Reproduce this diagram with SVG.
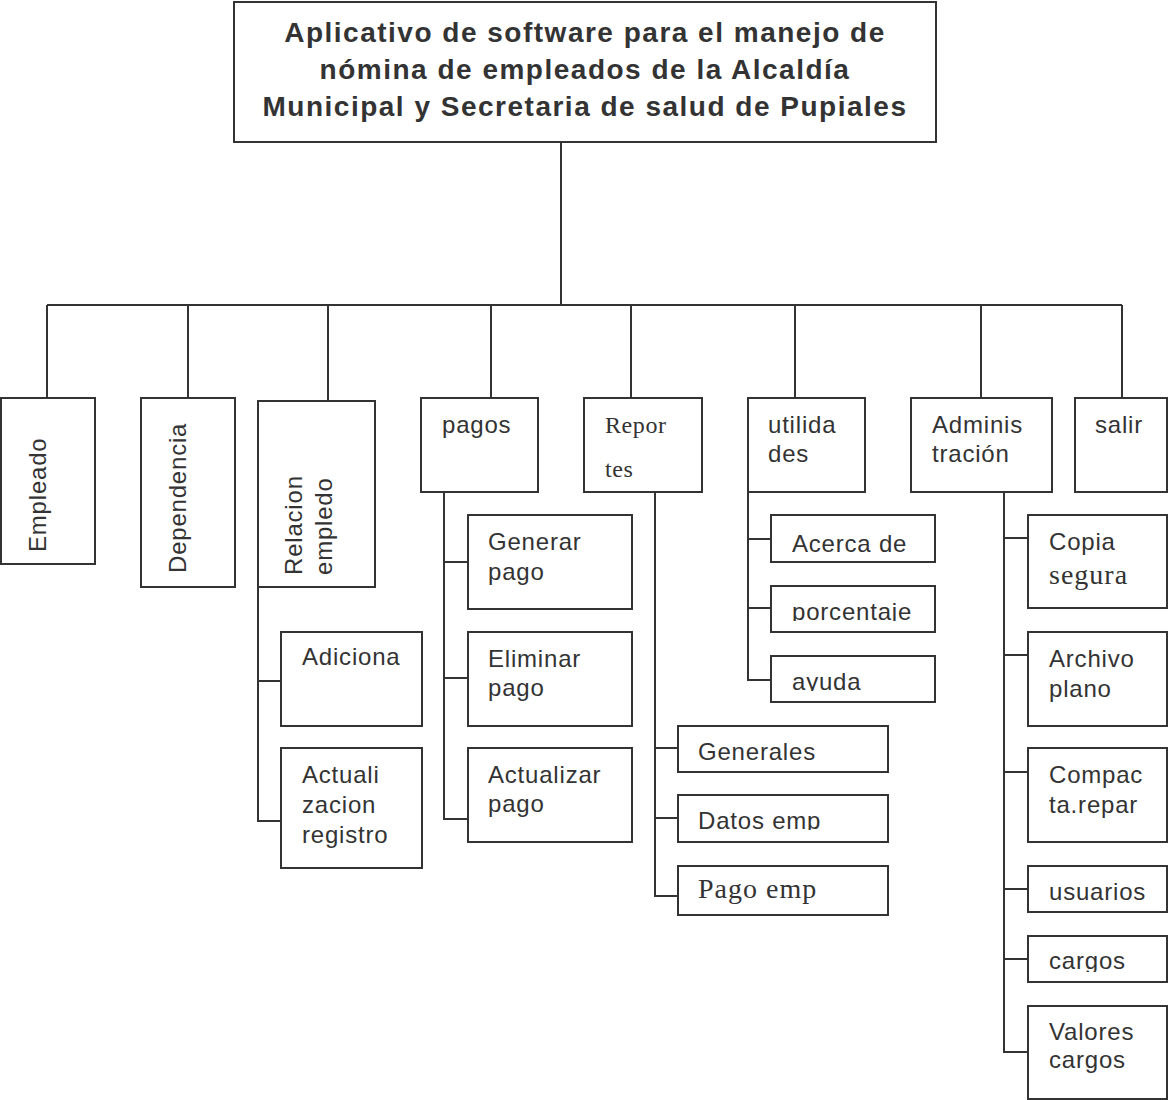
<svg xmlns="http://www.w3.org/2000/svg" width="1168" height="1100" viewBox="0 0 1168 1100">
<style>
.b{fill:#fff;stroke:#333;stroke-width:2}
.c line,.c polyline{stroke:#333;stroke-width:2;fill:none}
text{font-family:"Liberation Sans",Arial,sans-serif;font-size:24px;fill:#333;letter-spacing:0.8px}
.t{font-size:28px;font-weight:bold;text-anchor:middle;letter-spacing:1.5px}
.s{font-family:"Liberation Serif","Times New Roman",serif;letter-spacing:0.6px}
.L{font-size:28px;letter-spacing:1px}
</style>
<defs>
<clipPath id="cp1"><rect x="772" y="587" width="162" height="34"/></clipPath>
<clipPath id="cp2"><rect x="772" y="657" width="162" height="34"/></clipPath>
<clipPath id="cp3"><rect x="679" y="796" width="208" height="34"/></clipPath>
<clipPath id="cp4"><rect x="1029" y="937" width="138" height="35"/></clipPath>
</defs>
<g class="c" id="connectors">
<line x1="561" y1="142" x2="561" y2="305"/>
<line x1="47" y1="305" x2="1122" y2="305"/>
<line x1="47" y1="305" x2="47" y2="398"/>
<line x1="188" y1="305" x2="188" y2="398"/>
<line x1="328" y1="305" x2="328" y2="401"/>
<line x1="491" y1="305" x2="491" y2="398"/>
<line x1="631" y1="305" x2="631" y2="398"/>
<line x1="795" y1="305" x2="795" y2="398"/>
<line x1="981" y1="305" x2="981" y2="398"/>
<line x1="1122" y1="305" x2="1122" y2="398"/>
<polyline points="258,587 258,821 281,821"/>
<line x1="258" y1="681" x2="281" y2="681"/>
<polyline points="444,492 444,819 468,819"/>
<line x1="444" y1="562" x2="468" y2="562"/>
<line x1="444" y1="678" x2="468" y2="678"/>
<polyline points="655,492 655,896 678,896"/>
<line x1="655" y1="748" x2="678" y2="748"/>
<line x1="655" y1="818" x2="678" y2="818"/>
<polyline points="748,492 748,680 771,680"/>
<line x1="748" y1="539" x2="771" y2="539"/>
<line x1="748" y1="608" x2="771" y2="608"/>
<polyline points="1004,492 1004,1052 1028,1052"/>
<line x1="1004" y1="538" x2="1028" y2="538"/>
<line x1="1004" y1="655" x2="1028" y2="655"/>
<line x1="1004" y1="772" x2="1028" y2="772"/>
<line x1="1004" y1="889" x2="1028" y2="889"/>
<line x1="1004" y1="959" x2="1028" y2="959"/>
</g>
<g id="root"><rect class="b" x="234" y="2" width="702" height="140"/>
<text class="t" x="585" y="42">Aplicativo de software para el manejo de</text>
<text class="t" x="585" y="79">nómina de empleados de la Alcaldía</text>
<text class="t" x="585" y="116">Municipal y Secretaria de salud de Pupiales</text></g>
<g id="empleado"><rect class="b" x="1" y="398" width="94" height="166"/>
<text transform="translate(46,552) rotate(-90)">Empleado</text></g>
<g id="dependencia"><rect class="b" x="141" y="398" width="94" height="189"/>
<text transform="translate(186,573) rotate(-90)">Dependencia</text></g>
<g id="relacion"><rect class="b" x="258" y="401" width="117" height="186"/>
<text transform="translate(302,575) rotate(-90)">Relacion</text>
<text transform="translate(332,575) rotate(-90)">empledo</text></g>
<g id="pagos"><rect class="b" x="421" y="398" width="117" height="94"/>
<text x="442" y="433">pagos</text></g>
<g id="reportes"><rect class="b" x="584" y="398" width="118" height="94"/>
<text class="s" x="605" y="433">Repor</text>
<text class="s" x="605" y="477">tes</text></g>
<g id="utilidades"><rect class="b" x="748" y="398" width="117" height="94"/>
<text x="768" y="433">utilida</text>
<text x="768" y="462">des</text></g>
<g id="administracion"><rect class="b" x="911" y="398" width="141" height="94"/>
<text x="932" y="433">Adminis</text>
<text x="932" y="462">tración</text></g>
<g id="salir"><rect class="b" x="1075" y="398" width="92" height="94"/>
<text x="1095" y="433">salir</text></g>
<g id="adiciona"><rect class="b" x="281" y="632" width="141" height="94"/>
<text x="302" y="665">Adiciona</text></g>
<g id="actualizacion"><rect class="b" x="281" y="748" width="141" height="120"/>
<text x="302" y="783">Actuali</text>
<text x="302" y="813">zacion</text>
<text x="302" y="843">registro</text></g>
<g id="generar"><rect class="b" x="468" y="515" width="164" height="94"/>
<text x="488" y="550">Generar</text>
<text x="488" y="580">pago</text></g>
<g id="eliminar"><rect class="b" x="468" y="632" width="164" height="94"/>
<text x="488" y="667">Eliminar</text>
<text x="488" y="696">pago</text></g>
<g id="actualizar"><rect class="b" x="468" y="748" width="164" height="94"/>
<text x="488" y="783">Actualizar</text>
<text x="488" y="812">pago</text></g>
<g id="acerca"><rect class="b" x="771" y="515" width="164" height="47"/>
<text x="792" y="552">Acerca de</text></g>
<g id="porcentaje"><rect class="b" x="771" y="586" width="164" height="46"/>
<text x="792" y="620" clip-path="url(#cp1)">porcentaje</text></g>
<g id="ayuda"><rect class="b" x="771" y="656" width="164" height="46"/>
<text x="792" y="690" clip-path="url(#cp2)">ayuda</text></g>
<g id="generales"><rect class="b" x="678" y="726" width="210" height="46"/>
<text x="698" y="760">Generales</text></g>
<g id="datosemp"><rect class="b" x="678" y="795" width="210" height="47"/>
<text x="698" y="829" clip-path="url(#cp3)">Datos emp</text></g>
<g id="pagoemp"><rect class="b" x="678" y="866" width="210" height="49"/>
<text class="s L" x="698" y="898">Pago emp</text></g>
<g id="copia"><rect class="b" x="1028" y="515" width="139" height="93"/>
<text x="1049" y="550">Copia</text>
<text class="s L" x="1049" y="584">segura</text></g>
<g id="archivo"><rect class="b" x="1028" y="632" width="139" height="94"/>
<text x="1049" y="667">Archivo</text>
<text x="1049" y="697">plano</text></g>
<g id="compacta"><rect class="b" x="1028" y="748" width="139" height="94"/>
<text x="1049" y="783">Compac</text>
<text x="1049" y="813">ta.repar</text></g>
<g id="usuarios"><rect class="b" x="1028" y="866" width="139" height="46"/>
<text x="1049" y="900">usuarios</text></g>
<g id="cargos"><rect class="b" x="1028" y="936" width="139" height="46"/>
<text x="1049" y="969" clip-path="url(#cp4)">cargos</text></g>
<g id="valores"><rect class="b" x="1028" y="1006" width="139" height="93"/>
<text x="1049" y="1040">Valores</text>
<text x="1049" y="1068">cargos</text></g>
</svg>
